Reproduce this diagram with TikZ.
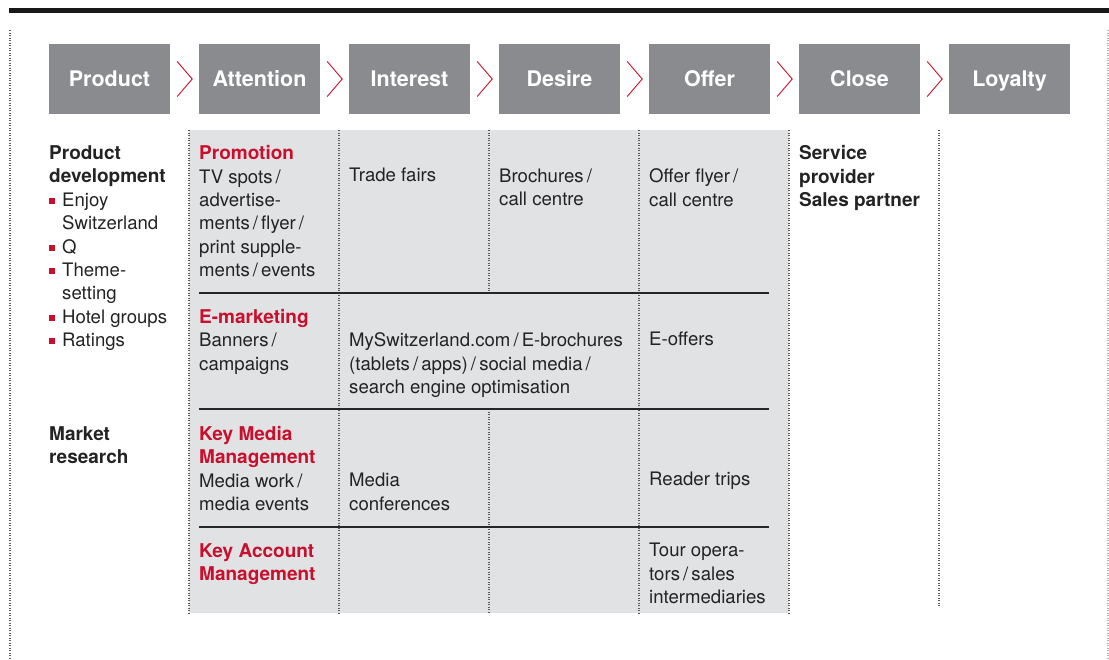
\documentclass[tikz,border=0pt]{standalone}
\usepackage{fontspec}
\setmainfont{TeX Gyre Heros}
\usetikzlibrary{calc,positioning}
\definecolor{stagegray}{RGB}{137,139,142}
\definecolor{cellgray}{RGB}{225,226,228}
\definecolor{swissred}{RGB}{200,16,46}
\definecolor{inkgray}{RGB}{35,35,35}
\definecolor{dotgray}{RGB}{90,90,90}
\tikzset{
    stagebox/.style = {fill=stagegray, minimum width=121pt, minimum height=70pt, inner sep=0pt, text height=15pt, text depth=0pt, text=white, font=\fontsize{21.5}{24}\selectfont\bfseries},
    celltext/.style = {anchor=north west, yshift=16.38pt, align=left, inner sep=0pt, text=inkgray, font=\fontsize{18.6}{23.4}\selectfont, execute at begin node=\strut},
    celllines/.style = {celltext, yshift=-3.8pt},
    sidehead/.style = {celllines, font=\fontsize{19}{23.4}\selectfont\bfseries},
    chev/.style = {draw=swissred, line width=0.9pt},
    colline/.style = {dotgray, line width=1.1pt, dash pattern=on 1.1pt off 1.4pt},
    rowline/.style = {black!85, line width=1.6pt}
}
\newcommand{\redsq}{\makebox[13pt][l]{\textcolor{swissred}{\rule[2.5pt]{6pt}{6pt}}}}
\newcommand{\cellhd}[1]{{\color{swissred}\fontsize{19}{23.4}\selectfont\bfseries #1}}

\begin{document}
\begin{tikzpicture}[x=1pt,y=-1pt]
                \useasboundingbox (0,0) rectangle (1109,659);

                %% frame
                \draw[line width=5pt, black!90] (9,10.5) -- (1109,10.5);
                \draw[colline] (10,30) -- (10,659);
                \draw[colline, gray!60] (1108,30) -- (1108,659);

                %% stages
                \node[stagebox] (product) at (49+60.5,79) {Product};
                \node[stagebox] (attention) at (199+60.5,79) {Attention};
                \node[stagebox] (interest) at (349+60.5,79) {Interest};
                \node[stagebox] (desire) at (499+60.5,79) {Desire};
                \node[stagebox] (offer) at (649+60.5,79) {Offer};
                \node[stagebox] (close) at (799+60.5,79) {Close};
                \node[stagebox] (loyalty) at (949+60.5,79) {Loyalty};

                \draw[chev] ($(product.east)+(7,-17.5)$) -- ($(product.east)+(22,0)$) -- ($(product.east)+(7,17.5)$);
                \draw[chev] ($(attention.east)+(7,-17.5)$) -- ($(attention.east)+(22,0)$) -- ($(attention.east)+(7,17.5)$);
                \draw[chev] ($(interest.east)+(7,-17.5)$) -- ($(interest.east)+(22,0)$) -- ($(interest.east)+(7,17.5)$);
                \draw[chev] ($(desire.east)+(7,-17.5)$) -- ($(desire.east)+(22,0)$) -- ($(desire.east)+(7,17.5)$);
                \draw[chev] ($(offer.east)+(7,-17.5)$) -- ($(offer.east)+(22,0)$) -- ($(offer.east)+(7,17.5)$);
                \draw[chev] ($(close.east)+(7,-17.5)$) -- ($(close.east)+(22,0)$) -- ($(close.east)+(7,17.5)$);

                %% grid
                \fill[cellgray] (189,130) rectangle (789,613);
                \draw[colline] (189,130) -- (189,613);
                \draw[colline] (339,130) -- (339,613);
                \draw[colline] (489,130) -- (489,293);
                \draw[colline] (489,409) -- (489,613);
                \draw[colline] (639,130) -- (639,613);
                \draw[colline] (789,130) -- (789,613);
                \draw[colline] (939,130) -- (939,606);

                \draw[rowline] (199,293) -- (769,293);
                \draw[rowline] (199,409) -- (769,409);
                \draw[rowline] (199,527) -- (769,527);

                %% left column
                \node[celllines] (devel) at (49,158) {{\fontsize{19}{23.4}\selectfont\bfseries Product}\\{\fontsize{19}{23.4}\selectfont\bfseries development}\\
                    \redsq Enjoy\\\hspace*{13pt}Switzerland\\\redsq Q\\\redsq Theme-\\\hspace*{13pt}setting\\
                    \redsq Hotel groups\\\redsq Ratings};
                \node[sidehead] (research) at (49,438.8) {Market\\research};

                %% promotion
                \node[celllines] (promo) at (199,158) {\cellhd{Promotion}\\TV spots\,/\\advertise-\\ments\,/\,flyer\,/\\print supple-\\ments\,/\,events};
                \node[celltext] (fairs) at (349,181.4) {Trade fairs};
                \node[celllines] (brochures) at (499,181.4) {Brochures\,/\\call centre};
                \node[celllines] (flyer) at (649,181.4) {Offer flyer\,/\\call centre};

                %% e-marketing
                \node[celllines] (emarket) at (199,321.8) {\cellhd{E-marketing}\\Banners\,/\\campaigns};
                \node[celllines] (myswiss) at (349,345.2) {MySwitzerland.com\,/\,E-brochures\\(tablets\,/\,apps)\,/\,social media\,/\\search engine optimisation};
                \node[celltext] (eoffers) at (649,345.2) {E-offers};

                %% key media
                \node[celllines] (keymedia) at (199,438.8) {\cellhd{Key Media}\\\cellhd{Management}\\Media work\,/\\media events};
                \node[celllines] (confs) at (349,485.6) {Media\\conferences};
                \node[celltext] (trips) at (649,485.6) {Reader trips};

                %% key account
                \node[celllines] (keyacc) at (199,555.8) {\cellhd{Key Account}\\\cellhd{Management}};
                \node[celllines] (operators) at (649,555.8) {Tour opera-\\tors\,/\,sales\\intermediaries};

                %% close
                \node[sidehead] (partner) at (799,158) {Service\\provider\\Sales partner};

            \end{tikzpicture}
\end{document}
